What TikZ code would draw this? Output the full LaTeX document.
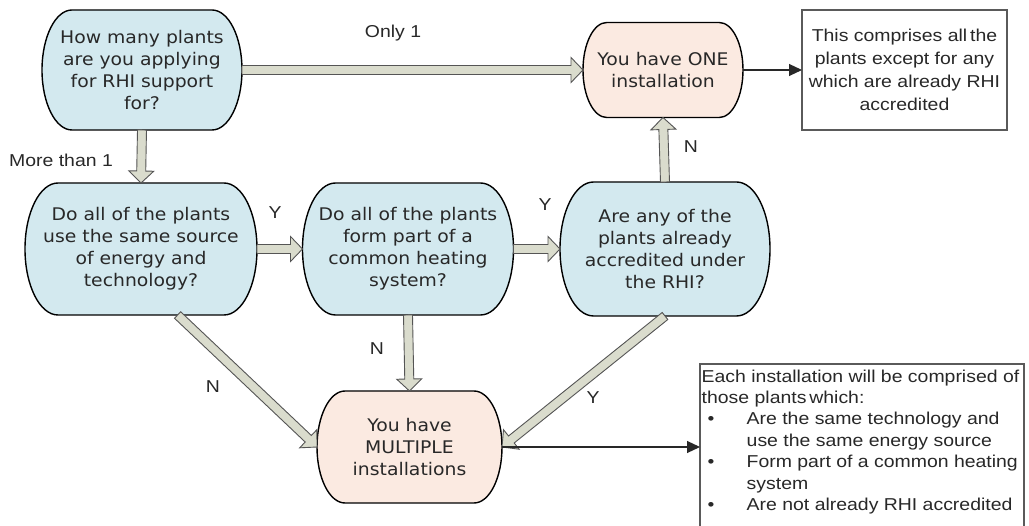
\documentclass[tikz,border=0pt]{standalone}
\usepackage{fontspec}
\usetikzlibrary{arrows.meta,calc,positioning,backgrounds}
\newfontfamily\qfont[FakeStretch=1.08]{DejaVu Sans}
\newfontfamily\notefont[FakeStretch=1.13]{Liberation Sans}
\definecolor{QuestionClr}{RGB}{211,233,239}
\definecolor{ResultClr}{RGB}{251,234,225}
\definecolor{ArrowClr}{RGB}{218,220,205}
\definecolor{ArrowLineClr}{RGB}{85,85,85}
\definecolor{TextClr}{RGB}{40,40,40}
\definecolor{BoxClr}{RGB}{90,90,90}

\newcommand\capsule[2]{%
  \draw[capsule,fill=#2] let \p1=(#1.north west), \p2=(#1.south east),
    \n1={(\y1-\y2)/2}, \n2={\n1/2} in
    (\x1+\n2,\y1) -- (\x2-\n2,\y1)
    arc[start angle=90,end angle=-90,x radius=\n2,y radius=\n1]
    -- (\x1+\n2,\y2)
    arc[start angle=-90,end angle=-270,x radius=\n2,y radius=\n1] -- cycle;}
\newcommand\fatarrow[2]{%
  \coordinate (neck) at ($(#2)!12pt!(#1)$);
  \draw[fatarrow] ($(#1)!4.5pt!90:(#2)$) -- ($(neck)!4.5pt!90:(#2)$)
    -- ($(neck)!12.5pt!90:(#2)$) -- (#2) -- ($(neck)!12.5pt!-90:(#2)$)
    -- ($(neck)!4.5pt!-90:(#2)$) -- ($(#1)!4.5pt!-90:(#2)$) -- cycle;}

\begin{document}
\begin{tikzpicture}[x=1pt,y=-1pt,
  holder/.style={rectangle,inner sep=0pt,outer sep=0pt,align=center,text=TextClr,
    font=\qfont\fontsize{17.4}{22}\selectfont},
  capsule/.style={draw=black,line width=1.4pt},
  fatarrow/.style={draw=ArrowLineClr,fill=ArrowClr,line width=0.9pt},
  pointer/.style={draw=TextClr,line width=1.1pt,-{Triangle[length=13pt,width=12pt]}},
  note/.style={draw=BoxClr,line width=1.1pt,inner sep=0pt,outer sep=0pt},
  notetext/.style={text=TextClr,inner sep=0pt,font=\notefont\fontsize{17.2}{23}\selectfont},
  answer/.style={text=TextClr,inner sep=0pt,font=\notefont\fontsize{17.2}{21}\selectfont}]
\path[use as bounding box] (0,0) rectangle (1029,526);

\node[holder,minimum width=200pt,minimum height=120pt] (plants) at (142,70) {How many plants\\are you applying\\for RHI support\\for?};
\node[holder,minimum width=160pt,minimum height=95pt] (one) at (663,70) {You have ONE\\installation};
\node[holder,minimum width=232pt,minimum height=132pt] (source) at (141,249) {Do all of the plants\\use the same source\\of energy and\\technology?};
\node[holder,minimum width=211pt,minimum height=132pt] (heating) at (408,249) {Do all of the plants\\form part of a\\common heating\\system?};
\node[holder,minimum width=210pt,minimum height=134pt] (accredited) at (665,249) {Are any of the\\plants already\\accredited under\\the RHI?};
\node[holder,minimum width=185pt,minimum height=112pt] (multiple) at (409.5,447) {You have\\MULTIPLE\\installations};

\begin{scope}[on background layer]
\fill[white] (0,0) rectangle (1029,526);
\capsule{plants}{QuestionClr}
\capsule{source}{QuestionClr}
\capsule{heating}{QuestionClr}
\capsule{accredited}{QuestionClr}
\capsule{one}{ResultClr}
\capsule{multiple}{ResultClr}
\end{scope}

\node[note,notetext,align=center,minimum width=205pt,minimum height=120pt] (noteone) at (904.5,70) {This comprises all\,the\\plants except for any\\which are already RHI\\accredited};
\node[note,minimum width=324pt,minimum height=166pt] (notemulti) at (862,447) {};
\node[notetext,align=left,font=\notefont\fontsize{17.2}{21.4}\selectfont,below right=5.5pt and 1.5pt of notemulti.north west] (notemultitext) {Each installation will be comprised of\\
those plants\,which:\\
\makebox[45pt][l]{\hspace{6pt}\textbullet}Are the same technology and\\
\hspace*{45pt}use the same energy source\\
\makebox[45pt][l]{\hspace{6pt}\textbullet}Form part of a common heating\\
\hspace*{45pt}system\\
\makebox[45pt][l]{\hspace{6pt}\textbullet}Are not already RHI accredited};

\fatarrow{plants.east}{one.west}
\fatarrow{plants.south}{source.north}
\fatarrow{source.east}{heating.west}
\fatarrow{heating.east}{accredited.west}
\fatarrow{accredited.north}{one.south}
\fatarrow{source.-61}{multiple.west}
\fatarrow{heating.south}{multiple.north}
\fatarrow{accredited.south}{multiple.east}

\draw[pointer] (one.east) -- (noteone.west);
\draw[pointer] (multiple.east) -- (notemulti.west);

\node[answer] (only) at (393,33) {Only 1};
\node[answer] (more) at (61,160) {More than 1};
\node[answer] (ysource) at (275,213) {Y};
\node[answer] (yheating) at (545,205) {Y};
\node[answer] (naccr) at (691,147) {N};
\node[answer] (nsource) at (213,387) {N};
\node[answer] (nheating) at (377,349) {N};
\node[answer] (yaccr) at (593,398) {Y};
\end{tikzpicture}
\end{document}
